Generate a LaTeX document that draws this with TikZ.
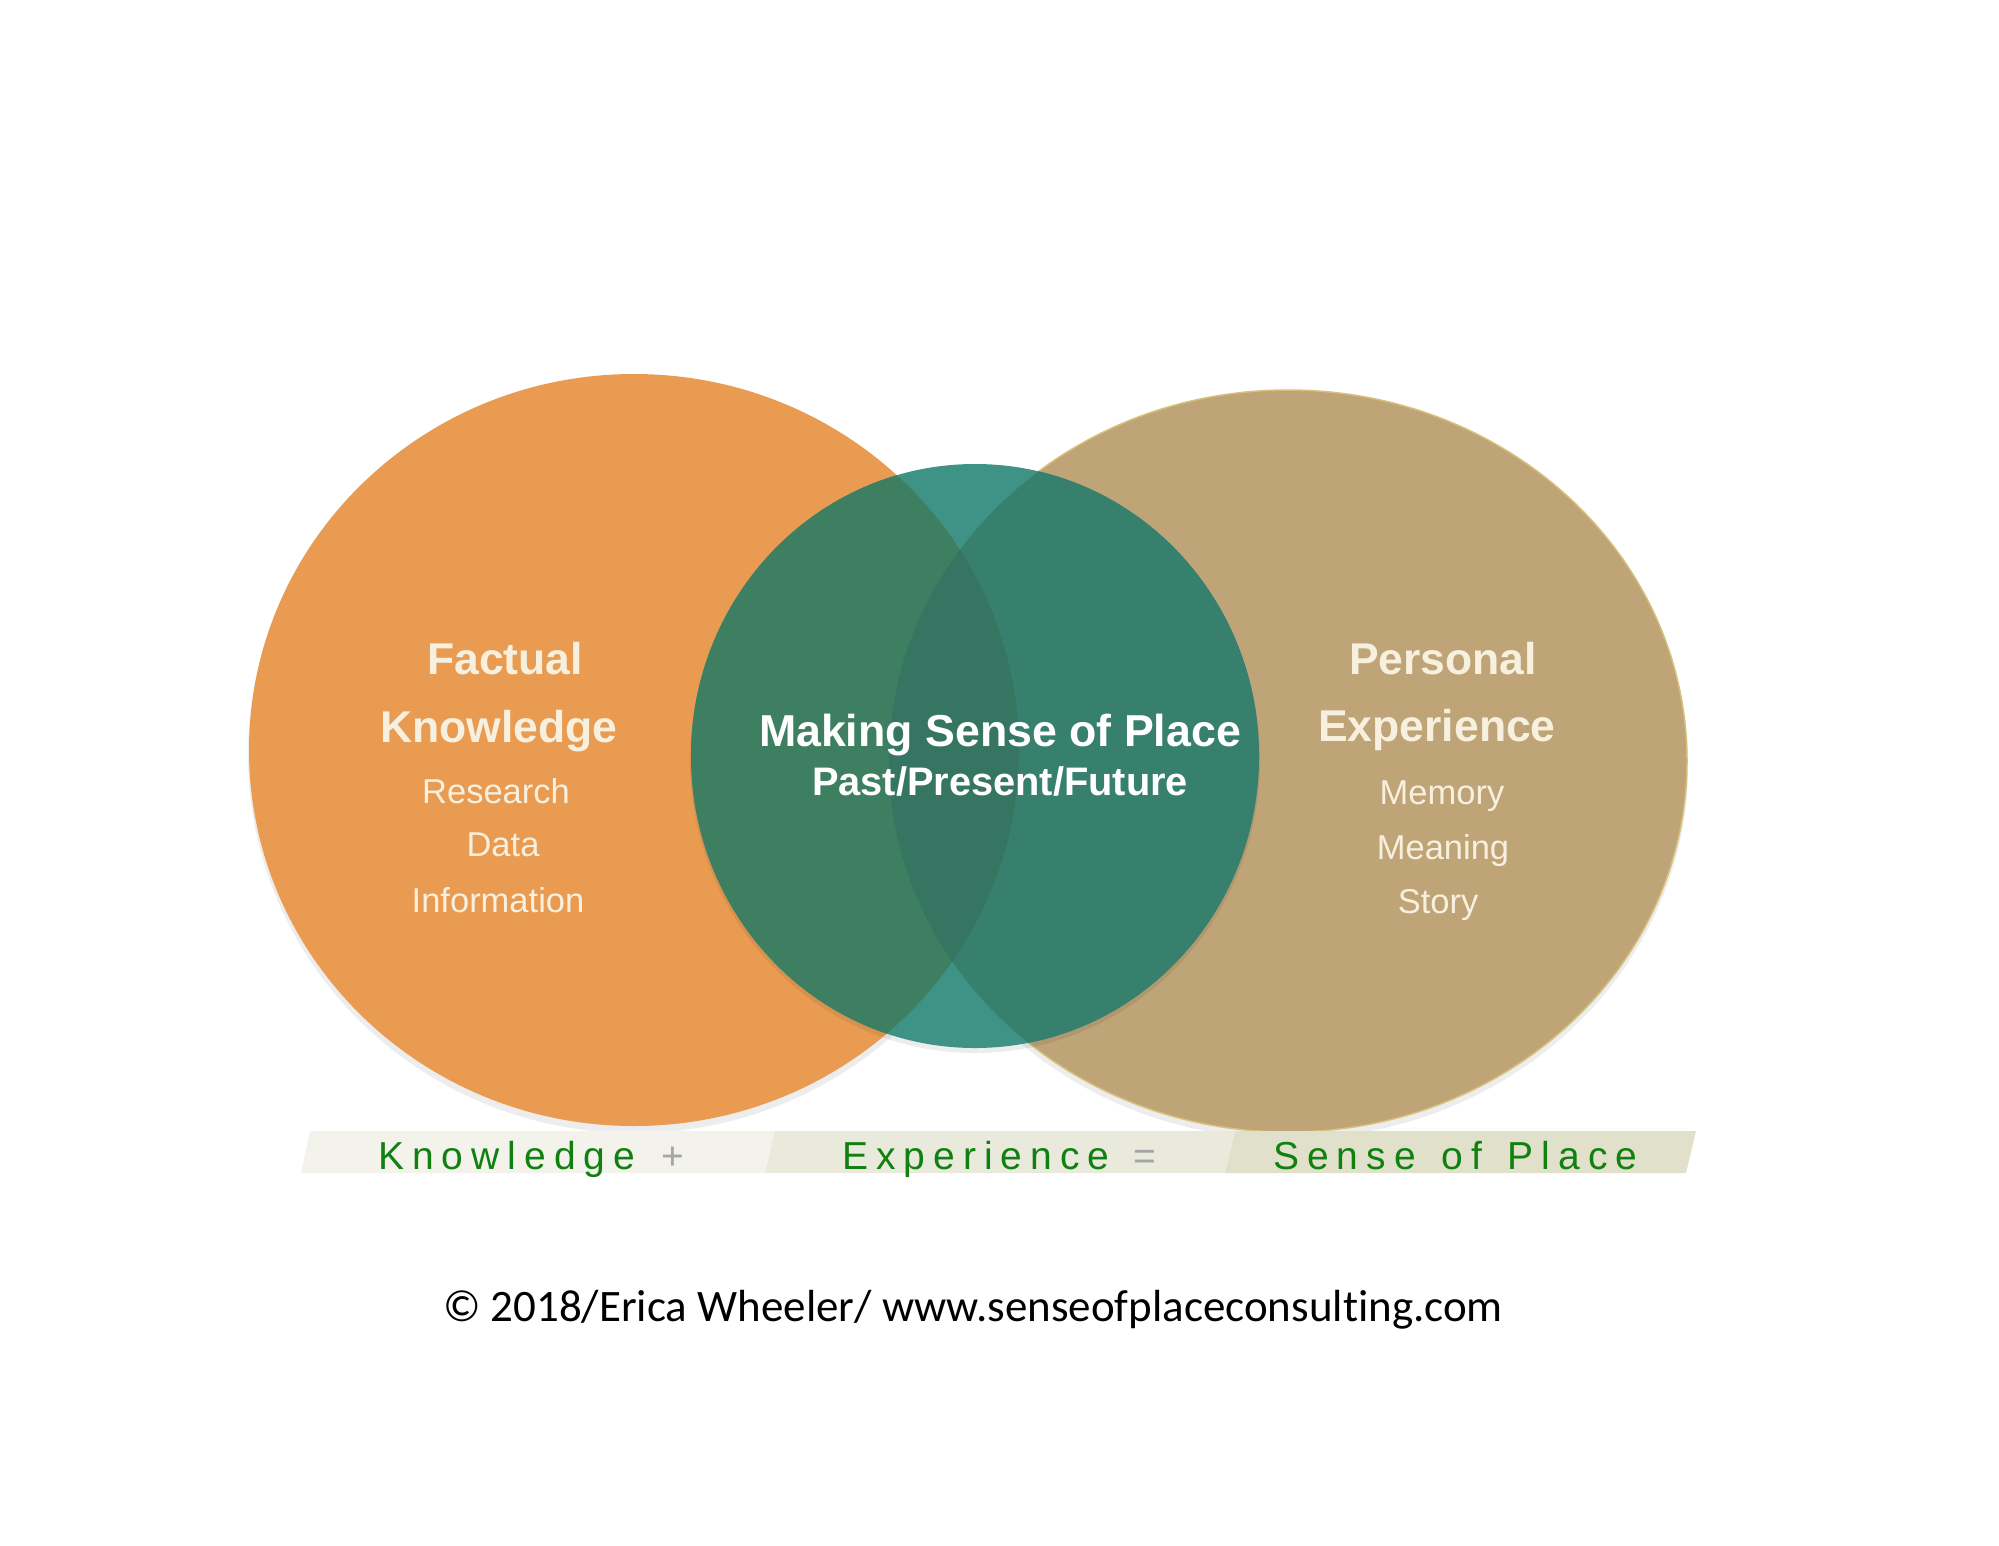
\documentclass[tikz,border=0pt]{standalone}
\usepackage{fontspec}
\setmainfont{Liberation Sans}
\newfontfamily\bandfont[LetterSpace=20.5]{Liberation Sans}
\newfontfamily\notefont[Ligatures=NoCommon]{Carlito}
\usetikzlibrary{positioning,calc}

\definecolor{factorange}{RGB}{233,155,82}
\definecolor{persontan}{RGB}{190,164,119}
\definecolor{tanedge}{RGB}{214,192,122}
\definecolor{placeteal}{RGB}{63,147,134}
\definecolor{tealorange}{RGB}{62,127,98}
\definecolor{tealtan}{RGB}{55,128,110}
\definecolor{teallens}{RGB}{54,117,98}
\definecolor{labelcream}{RGB}{247,240,222}
\definecolor{bandone}{RGB}{243,243,235}
\definecolor{bandtwo}{RGB}{233,233,220}
\definecolor{bandthree}{RGB}{225,225,203}
\definecolor{bandgreen}{RGB}{16,128,16}
\definecolor{signgray}{RGB}{165,165,165}

\begin{document}
\begin{tikzpicture}[x=1pt,y=-1pt,
    head/.style={text=labelcream,anchor=base,inner sep=0pt,
      font=\fontsize{44.5}{50}\selectfont\bfseries},
    item/.style={text=labelcream,anchor=base,inner sep=0pt,
      font=\fontsize{34.5}{40}\selectfont},
    core/.style={text=white,anchor=base,inner sep=0pt,font=\bfseries},
    bandword/.style={text=bandgreen,anchor=base west,inner sep=0pt,
      font=\bandfont\fontsize{39}{44}\selectfont},
    bandsign/.style={text=signgray,anchor=base west,inner sep=0pt,
      font=\fontsize{39}{44}\selectfont},
    shade/.style={fill=black,opacity=.07}]
  \useasboundingbox (0,0) rectangle (1999,1545);

  % centres of the three discs
  \coordinate (kc) at (634,750);
  \coordinate (ec) at (1288,761);
  \coordinate (pc) at (975,756);

  % soft shadows
  \fill [shade] ($(kc)+(0,5)$) ellipse [x radius=386, y radius=378];
  \fill [shade] ($(ec)+(0,5)$) ellipse [x radius=400, y radius=373];

  % knowledge and experience
  \fill [factorange] (kc) ellipse [x radius=385, y radius=376];
  \filldraw [fill=persontan, draw=tanedge, line width=1.5pt] (ec)
    ellipse [x radius=399, y radius=371];

  % sense of place disc, tinted where it lies on the others
  \fill [shade] ($(pc)+(0,4)$) ellipse [x radius=285, y radius=293];
  \fill [placeteal] (pc) ellipse [x radius=284, y radius=292];
  \begin{scope}
    \clip (kc) ellipse [x radius=385, y radius=376];
    \fill [tealorange] (pc) ellipse [x radius=284, y radius=292];
  \end{scope}
  \begin{scope}
    \clip (ec) ellipse [x radius=399, y radius=371];
    \fill [tealtan] (pc) ellipse [x radius=284, y radius=292];
    \clip (kc) ellipse [x radius=385, y radius=376];
    \fill [teallens] (pc) ellipse [x radius=284, y radius=292];
  \end{scope}

  % left labels
  \node [head] (factual) at (505,674) {Factual};
  \node [head] (knowhead) at (499,742) {Knowledge};
  \node [item] (research) at (496,803) {Research};
  \node [item] (data) at (503,856) {Data};
  \node [item] (info) at (498,912) {Information};

  % right labels
  \node [head] (personal) at (1443,674) {Personal};
  \node [head] (exphead) at (1437,741) {Experience};
  \node [item] (memory) at (1442,804) {Memory};
  \node [item] (meaning) at (1443,859) {Meaning};
  \node [item] (story) at (1438,913) {Story};

  % centre labels
  \node [core, font=\fontsize{44.7}{50}\selectfont\bfseries] (making) at (1000,746)
    {Making Sense of Place};
  \node [core, font=\fontsize{39.8}{45}\selectfont\bfseries] (times) at (1000,795)
    {Past/Present/Future};

  % equation band
  \fill [bandone] (301,1173) -- (310,1131) -- (775,1131) -- (765,1173) -- cycle;
  \fill [bandtwo] (765,1173) -- (775,1131) -- (1235,1131) -- (1225,1173) -- cycle;
  \fill [bandthree] (1225,1173) -- (1235,1131) -- (1696,1131) -- (1686,1173) -- cycle;
  \node [bandword] (kword) at (378,1169) {Knowledge};
  \node [bandsign] (plus) at (661,1169) {+};
  \node [bandword] (eword) at (842,1169) {Experience};
  \node [bandsign] (equals) at (1133,1169) {=};
  \node [bandword] (sword) at (1273,1169) {Sense\hspace{7pt} of\hspace{7pt} Place};

  % credit line
  \node [anchor=base, inner sep=0pt, font=\notefont\fontsize{45}{50}\selectfont]
    (credit) at (973,1321) {© 2018/Erica Wheeler/ www.senseofplaceconsulting.com};
\end{tikzpicture}
\end{document}
